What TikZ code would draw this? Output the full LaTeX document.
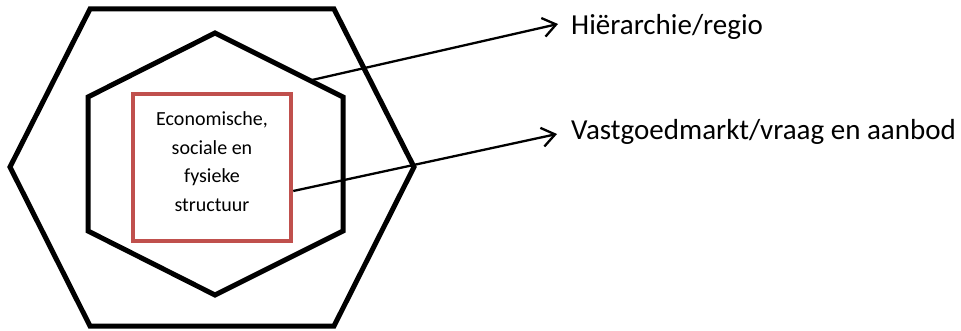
\documentclass[tikz,border=0pt]{standalone}
\usepackage{fontspec}
\setmainfont{Carlito}
\usetikzlibrary{arrows.meta}
\definecolor{boxred}{RGB}{192,80,77}
\tikzset{
  hexline/.style={draw=black, line width=5pt, line join=miter},
  redbox/.style={draw=boxred, line width=4.5pt, minimum width=158pt, minimum height=147pt, inner sep=0pt},
  boxtext/.style={align=center, font=\fontsize{20pt}{28.5pt}\selectfont, inner sep=0pt},
  pointer/.style={draw=black, line width=2.3pt, -{Straight Barb[length=13pt,width=19pt,line width=2.3pt]}},
  lbl/.style={anchor=base west, inner sep=0pt, font=\fontsize{29pt}{32pt}\selectfont}
}
\begin{document}
\begin{tikzpicture}[x=1pt,y=-1pt]
\useasboundingbox (0,0) rectangle (961,331);
% outer hexagon
\draw[hexline] (90,9) -- (334,9) -- (414,167) -- (334,326) -- (90,326) -- (10,167) -- cycle;
% inner hexagon
\draw[hexline] (215,33) -- (343,97) -- (343,231) -- (215,295) -- (88,231) -- (88,97) -- cycle;
% red box
\node[redbox] (core) at (212,167.5) {};
\node[boxtext] (coretext) at (212,161.5) {Economische,\\sociale en\\fysieke\\structuur};
% labels
\node[lbl] (hier) at (571,35) {Hiërarchie/regio};
\node[lbl] (vast) at (571,140) {Vastgoedmarkt/vraag en aanbod};
% connectors
\coordinate (s1) at (312,80);
\coordinate (t1) at (558,24);
\coordinate (t2) at (557,134);
\draw[pointer] (s1) -- (t1);
\draw[pointer] (core.east |- 0,191) -- (t2);
\end{tikzpicture}
\end{document}
